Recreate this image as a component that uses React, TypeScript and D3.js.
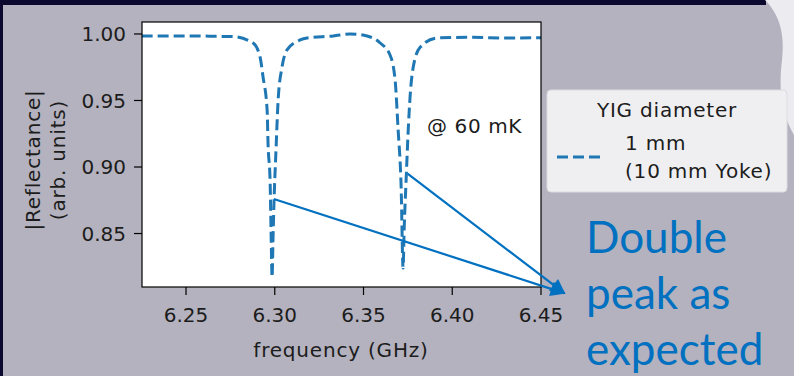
import React, { useRef, useEffect } from 'react';
import * as d3 from 'd3';

const freq = [
  6.225, 6.24, 6.255, 6.268, 6.2765, 6.2878, 6.2917, 6.2934, 6.2957, 6.2962, 6.2974, 6.2979, 6.2985,
  6.299, 6.2996, 6.3007, 6.3019, 6.3041, 6.3069, 6.3143, 6.3182, 6.333, 6.3424, 6.352, 6.3594,
  6.365, 6.3678, 6.3695, 6.3712, 6.3723, 6.3729, 6.374, 6.3752, 6.3763, 6.378, 6.3819, 6.3915,
  6.41, 6.43, 6.45,
];
const reflectance = [
  0.9985, 0.9985, 0.9985, 0.9982, 0.998, 0.9932, 0.9827, 0.9677, 0.9428, 0.918, 0.888, 0.8526, 0.8173,
  0.845, 0.875, 0.9128, 0.9504, 0.9752, 0.988, 0.9955, 0.997, 0.9985, 1.0, 0.9985, 0.9932,
  0.984, 0.9654, 0.928, 0.885, 0.824, 0.853, 0.89, 0.928, 0.954, 0.975, 0.99, 0.997,
  0.9975, 0.997, 0.9972,
];

const xTicks = [6.25, 6.3, 6.35, 6.4, 6.45];
const yTicks = [0.85, 0.9, 0.95, 1.0];

// arrow annotations: start on the two dips, common tip outside the axes
const arrowFrom = [[6.2995, 0.876], [6.3748, 0.895]];
const arrowTo = [6.4631, 0.8052];

const legendTitle = 'YIG diameter';
const legendLines = ['1 mm', '(10 mm Yoke)'];
const note = '@ 60 mK';
const callout = ['Double', 'peak as', 'expected'];

const App = () => {
  const width = 794, height = 376;
  const svgRef = useRef<SVGSVGElement>(null);

  useEffect(() => {
    const svg = d3.select(svgRef.current);
    svg.selectAll('*').remove();

    const left = 142, right = 541, top = 22, bottom = 287;
    const x = d3.scaleLinear().domain([6.2252, 6.45]).range([left, right]);
    const y = d3.scaleLinear().domain([0.8098, 1.009]).range([bottom, top]);

    const font = 'DejaVu Sans';
    const ink = '#1c1c1c';

    // slide background
    svg.append('rect').attr('width', width).attr('height', height).attr('fill', '#b4b2be');
    svg.append('rect').attr('width', 766).attr('height', 5).attr('fill', '#0b0a2e');
    svg.append('rect').attr('width', 3).attr('height', height).attr('fill', '#0b0a2e');
    svg.append('path')
      .attr('d', 'M765,0 C780,15 785,35 782,60 C779,85 780,110 794,135 L794,0 Z')
      .attr('fill', '#ececf0');

    // axes box
    svg.append('rect')
      .attr('x', left).attr('y', top)
      .attr('width', right - left).attr('height', bottom - top)
      .attr('fill', '#fff');

    const defs = svg.append('defs');
    defs.append('clipPath').attr('id', 'plotclip')
      .append('rect').attr('x', left).attr('y', top)
      .attr('width', right - left).attr('height', bottom - top);

    const line = d3.line<number>()
      .x((d, i) => x(freq[i]))
      .y(d => y(d))
      .curve(d3.curveMonotoneX);

    svg.append('path')
      .datum(reflectance)
      .attr('clip-path', 'url(#plotclip)')
      .attr('d', line)
      .attr('fill', 'none')
      .attr('stroke', '#1f77b4')
      .attr('stroke-width', 3)
      .attr('stroke-dasharray', '11,5');

    svg.append('rect')
      .attr('x', left).attr('y', top)
      .attr('width', right - left).attr('height', bottom - top)
      .attr('fill', 'none').attr('stroke', '#000').attr('stroke-width', 1.2);

    // x axis
    const gx = svg.append('g');
    xTicks.forEach(t => {
      gx.append('line').attr('x1', x(t)).attr('x2', x(t)).attr('y1', bottom).attr('y2', bottom + 8)
        .attr('stroke', '#000').attr('stroke-width', 1.2);
      gx.append('text').attr('x', x(t)).attr('y', bottom + 35)
        .attr('text-anchor', 'middle').attr('font-family', font).attr('font-size', 20)
        .attr('fill', ink).text(t.toFixed(2));
    });
    svg.append('text').attr('x', 341).attr('y', 357)
      .attr('text-anchor', 'middle').attr('font-family', font).attr('font-size', 20)
      .attr('letter-spacing', 0.8).attr('fill', ink).text('frequency (GHz)');

    // y axis
    const gy = svg.append('g');
    yTicks.forEach(t => {
      gy.append('line').attr('x1', left - 8).attr('x2', left).attr('y1', y(t)).attr('y2', y(t))
        .attr('stroke', '#000').attr('stroke-width', 1.2);
      gy.append('text').attr('x', left - 16).attr('y', y(t)).attr('dy', '0.36em')
        .attr('text-anchor', 'end').attr('font-family', font).attr('font-size', 20)
        .attr('fill', ink).text(t.toFixed(2));
    });
    [['|Reflectance|', 33], ['(arb. units)', 58]].forEach(([s, cx]) => {
      svg.append('text')
        .attr('transform', `translate(${cx},160) rotate(-90)`)
        .attr('text-anchor', 'middle').attr('dy', '0.36em')
        .attr('font-family', font).attr('font-size', 20).attr('letter-spacing', 0.8)
        .attr('fill', ink).text(s as string);
    });

    svg.append('text').attr('x', 427).attr('y', 133)
      .attr('font-family', font).attr('font-size', 20).attr('letter-spacing', 0.6)
      .attr('fill', ink).text(note);

    // legend
    svg.append('rect').attr('x', 547).attr('y', 90).attr('width', 240).attr('height', 102)
      .attr('rx', 4).attr('fill', '#efeff2').attr('stroke', '#dcdce0');
    svg.append('text').attr('x', 667).attr('y', 117)
      .attr('text-anchor', 'middle').attr('font-family', font).attr('font-size', 20)
      .attr('letter-spacing', 0.8).attr('fill', ink).text(legendTitle);
    svg.append('line').attr('x1', 557).attr('x2', 604).attr('y1', 157).attr('y2', 157)
      .attr('stroke', '#1f77b4').attr('stroke-width', 3).attr('stroke-dasharray', '11,5');
    legendLines.forEach((s, i) => {
      svg.append('text').attr('x', 625).attr('y', 150 + i * 28)
        .attr('font-family', font).attr('font-size', 20).attr('letter-spacing', 0.8)
        .attr('fill', ink).text(s);
    });

    // arrows
    defs.append('marker').attr('id', 'head')
      .attr('viewBox', '0 0 10 10').attr('refX', 9).attr('refY', 5)
      .attr('markerUnits', 'userSpaceOnUse').attr('markerWidth', 17).attr('markerHeight', 15)
      .attr('orient', 'auto')
      .append('path').attr('d', 'M0,0 L10,5 L0,10 Z').attr('fill', '#0070c0');
    arrowFrom.forEach(([f, v]) => {
      svg.append('line')
        .attr('x1', x(f)).attr('y1', y(v))
        .attr('x2', x(arrowTo[0])).attr('y2', y(arrowTo[1]))
        .attr('stroke', '#0070c0').attr('stroke-width', 2.2)
        .attr('marker-end', 'url(#head)');
    });

    callout.forEach((s, i) => {
      svg.append('text').attr('x', 586).attr('y', 253 + i * 56)
        .attr('font-family', 'Lato').attr('font-size', 44)
        .attr('fill', '#0070c0').text(s);
    });
  }, []);

  return (
    <div style={{ position: 'absolute', left: 0, top: 0 }}>
      <svg ref={svgRef} width={width} height={height} style={{ display: 'block' }} />
    </div>
  );
};

export default App;
